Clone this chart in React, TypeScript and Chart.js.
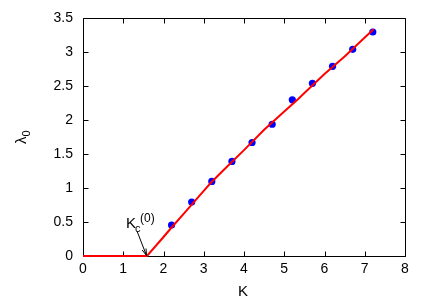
import React, { useEffect, useRef } from "react";
import { Chart, registerables } from "chart.js";

Chart.register(...registerables);

// Data
const kValues = [2.2, 2.7, 3.2, 3.7, 4.2, 4.7, 5.2, 5.7, 6.2, 6.7, 7.2];
const lambdaValues = [0.456, 0.794, 1.099, 1.393, 1.672, 1.941, 2.3, 2.544, 2.794, 3.044, 3.3];
const fitK = [0, 1.59, 2.0, 2.2, 2.5, 3.0, 3.17, 3.5, 4.0, 4.5, 5.0, 5.34, 5.5, 6.0, 6.5, 7.0, 7.22];
const fitLambda = [0, 0, 0.28, 0.42, 0.62, 0.96, 1.075, 1.27, 1.56, 1.86, 2.13, 2.31, 2.4, 2.68, 2.94, 3.22, 3.34];
const kcValue = 1.59;
const xTickValues = [0, 1, 2, 3, 4, 5, 6, 7, 8];
const yTickValues = [0, 0.5, 1, 1.5, 2, 2.5, 3, 3.5];

const FONT = '"Liberation Sans", Arial, Helvetica, sans-serif';

const framePlugin = {
  id: "frame",
  beforeDatasetsDraw(chart: any) {
    const { ctx, chartArea, scales } = chart;
    const { left, right, top, bottom } = chartArea;
    const L = Math.round(left) + 0.5;
    const R = Math.round(right) + 0.5;
    const T = Math.round(top) + 0.5;
    const B = Math.round(bottom) + 0.5;
    ctx.save();
    ctx.strokeStyle = "#000";
    ctx.lineWidth = 1;
    ctx.beginPath();
    ctx.rect(L, T, R - L, B - T);
    const tl = 5;
    xTickValues.forEach((v) => {
      const px = Math.round(scales.x.getPixelForValue(v)) + 0.5;
      ctx.moveTo(px, B);
      ctx.lineTo(px, B - tl);
      ctx.moveTo(px, T);
      ctx.lineTo(px, T + tl);
    });
    yTickValues.forEach((v) => {
      const py = Math.round(scales.y.getPixelForValue(v)) + 0.5;
      ctx.moveTo(L, py);
      ctx.lineTo(L + tl, py);
      ctx.moveTo(R, py);
      ctx.lineTo(R - tl, py);
    });
    ctx.stroke();
    ctx.restore();
  },
  afterDraw(chart: any) {
    const { ctx, chartArea, scales } = chart;
    ctx.save();
    ctx.fillStyle = "#000";
    ctx.textBaseline = "middle";
    ctx.textAlign = "center";
    // x title
    ctx.font = `15px ${FONT}`;
    ctx.fillText("K", (chartArea.left + chartArea.right) / 2 - 1, 292);
    // y title (rotated)
    ctx.save();
    ctx.translate(22, (chartArea.top + chartArea.bottom) / 2);
    ctx.rotate(-Math.PI / 2);
    ctx.textAlign = "left";
    ctx.font = `15px ${FONT}`;
    const lw = ctx.measureText("λ").width;
    ctx.font = `11px ${FONT}`;
    const sw = ctx.measureText("0").width;
    const x0 = -(lw + sw) / 2;
    ctx.font = `15px ${FONT}`;
    ctx.fillText("λ", x0, 0);
    ctx.font = `11px ${FONT}`;
    ctx.fillText("0", x0 + lw, 5);
    ctx.restore();

    // Kc(0) annotation
    const tipX = scales.x.getPixelForValue(kcValue);
    const tipY = scales.y.getPixelForValue(0);
    const sx = tipX - 10;
    const sy = tipY - 25;
    ctx.strokeStyle = "#000";
    ctx.lineWidth = 1;
    ctx.beginPath();
    ctx.moveTo(sx, sy);
    ctx.lineTo(tipX - 0.5, tipY - 0.5);
    ctx.stroke();
    const ang = Math.atan2(tipY - 0.5 - sy, tipX - 0.5 - sx);
    const ah = 7;
    ctx.beginPath();
    ctx.moveTo(tipX - 0.5, tipY - 0.5);
    ctx.lineTo(tipX - 0.5 - ah * Math.cos(ang - 0.3), tipY - 0.5 - ah * Math.sin(ang - 0.3));
    ctx.moveTo(tipX - 0.5, tipY - 0.5);
    ctx.lineTo(tipX - 0.5 - ah * Math.cos(ang + 0.3), tipY - 0.5 - ah * Math.sin(ang + 0.3));
    ctx.stroke();

    ctx.textAlign = "left";
    ctx.textBaseline = "alphabetic";
    const kx = tipX - 21;
    const ky = tipY - 28;
    ctx.font = `15px ${FONT}`;
    ctx.fillText("K", kx, ky);
    const kw = ctx.measureText("K").width;
    ctx.font = `11px ${FONT}`;
    ctx.fillText("c", kx + kw - 1, ky + 4);
    ctx.font = `12px ${FONT}`;
    ctx.fillText("(0)", kx + kw + 4, ky - 6);
    ctx.restore();
  },
};

export default function App() {
  const ref = useRef<HTMLCanvasElement | null>(null);
  useEffect(() => {
    if (!ref.current) return;
    const chart = new Chart(ref.current, {
      type: "scatter",
      data: {
        datasets: [
          {
            label: "fit",
            data: fitK.map((k, i) => ({ x: k, y: fitLambda[i] })),
            showLine: true,
            borderColor: "#ff0000",
            borderWidth: 2,
            pointRadius: 0,
            tension: 0,
            fill: false,
            order: 0,
            clip: false,
          } as any,
          {
            label: "data",
            data: kValues.map((k, i) => ({ x: k, y: lambdaValues[i] })),
            showLine: false,
            backgroundColor: "#0000ff",
            borderColor: "#0000ff",
            borderWidth: 0,
            pointRadius: 3.6,
            order: 1,
          } as any,
        ],
      },
      options: {
        responsive: false,
        animation: false,
        events: [],
        layout: { padding: { top: 18, right: 31, left: 0, bottom: 0 } },
        plugins: { legend: { display: false }, tooltip: { enabled: false } },
        scales: {
          x: {
            type: "linear",
            min: 0,
            max: 8,
            afterFit: (s: any) => {
              s.height = 49;
            },
            afterBuildTicks: (s: any) => {
              s.ticks = xTickValues.map((v) => ({ value: v }));
            },
            grid: { display: false, drawTicks: false },
            border: { display: false },
            ticks: {
              color: "#000",
              font: { family: FONT, size: 14 },
              padding: 5,
              maxRotation: 0,
              callback: (v: any) => String(v),
            },
          },
          y: {
            type: "linear",
            min: 0,
            max: 3.5,
            afterFit: (s: any) => {
              s.width = 83;
            },
            afterBuildTicks: (s: any) => {
              s.ticks = yTickValues.map((v) => ({ value: v }));
            },
            grid: { display: false, drawTicks: false },
            border: { display: false },
            ticks: {
              color: "#000",
              font: { family: FONT, size: 14 },
              padding: 10,
              callback: (v: any) => String(v),
            },
          },
        },
      },
      plugins: [framePlugin],
    });
    return () => chart.destroy();
  }, []);
  return (
    <div style={{ position: "fixed", left: 0, top: 0, width: 436, height: 305, background: "#fff" }}>
      <canvas ref={ref} width={436} height={305} style={{ width: 436, height: 305 }} />
    </div>
  );
}
